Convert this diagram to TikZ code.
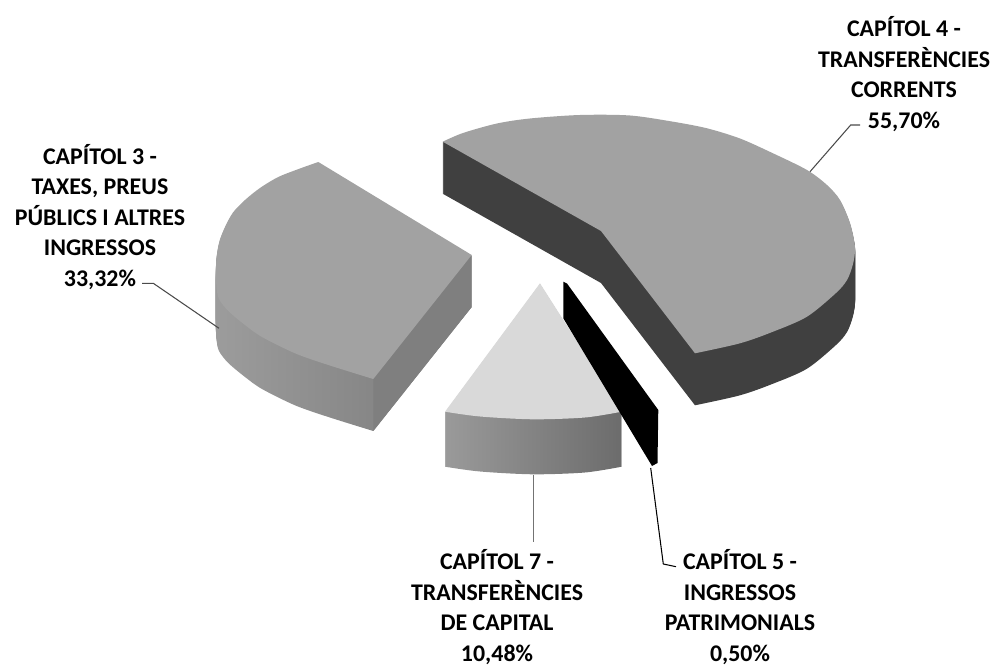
\documentclass[tikz,border=0pt]{standalone}
\usepackage{fontspec}
\setmainfont{Carlito}
\definecolor{ctopdark}{HTML}{A2A2A2}
\definecolor{cside4}{HTML}{404040}
\definecolor{cface3}{HTML}{7F7F7F}
\definecolor{cside3L}{HTML}{9C9C9C}
\definecolor{cside3R}{HTML}{797979}
\definecolor{ctop7}{HTML}{D9D9D9}
\definecolor{cside7L}{HTML}{9A9A9A}
\definecolor{cside7R}{HTML}{6C6C6C}
\definecolor{cleader}{HTML}{4A4A4A}
\begin{document}
\begin{tikzpicture}[x=0.02cm,y=-0.02cm]
\useasboundingbox (0,0) rectangle (998,665);
\tikzset{
  lbl/.style={font=\fontsize{13.6pt}{17.35pt}\selectfont\bfseries, align=center, inner sep=0pt, text=black},
  leader/.style={draw=cleader, line width=0.6pt},
}
% top faces
\def\topA{plot[smooth] coordinates {(442.7,141.7) (463,133) (497,123.5) (530,118.5) (580,115) (630,115.5) (673,121.7) (707,128.3) (740,138.5) (773,153.3) (807,170) (827,185) (840,200) (850,223) (855,247) (853,264) (847,280) (836,293) (807,316.7) (773,331.7) (740,343.3) (695,353.3)} -- (601,231) -- cycle}
\def\topB{plot[smooth] coordinates {(318.3,162) (300,168.5) (278.3,177) (260,188) (245,200) (233,212.5) (225,227) (219.5,241) (216.7,256) (215.8,272) (216.5,287) (219,299) (228.3,311) (245,325) (262,337) (295,353.3) (328.3,365) (373.3,379)} -- (471.7,255) -- cycle}
\def\topC{(540,283.3) -- (621.7,411.7) -- plot[smooth] coordinates {(621.7,411.7) (585,417.5) (533,419.3) (480,416.5) (445,411.7)} -- cycle}

% slice 4 (55,70%)
\foreach \d in {1,...,52} {\fill[cside4, shift={(0,\d)}] \topA;}
\fill[ctopdark] \topA;

% slice 3 (33,32%)
\foreach \d in {1,...,52} {\shade[left color=cside3L, right color=cside3R, shift={(0,\d)}] \topB;}
\fill[cface3] (471.7,255) -- (373.3,379) -- (373.3,431) -- (471.7,307) -- cycle;
\fill[ctopdark] \topB;

% slice 7 (10,48%)
\foreach \d in {1,...,55} {\shade[left color=cside7L, right color=cside7R, shift={(0,\d)}] \topC;}
\fill[ctop7] \topC;

% slice 5 (0,50%)
\fill[black] (563.3,281.7) -- (567,283.5) -- (658.3,410) -- (657.5,463) -- (652,466) -- (563.3,318.3) -- cycle;

% labels
\node[lbl] (l4) at (904,74) {CAPÍTOL 4 -\\TRANSFERÈNCIES\\CORRENTS\\55,70\%};
\node[lbl] (l3) at (100,217) {CAPÍTOL 3 -\\TAXES, PREUS\\PÚBLICS I ALTRES\\INGRESSOS\\33,32\%};
\node[lbl] (l7) at (497,607) {CAPÍTOL 7 -\\TRANSFERÈNCIES\\DE CAPITAL\\10,48\%};
\node[lbl] (l5) at (740,607) {CAPÍTOL 5 -\\INGRESSOS\\PATRIMONIALS\\0,50\%};

% leader lines
\coordinate (s4) at (810,171.7);
\coordinate (k4) at (850.7,125);
\coordinate (e4) at (860,125);
\draw[leader] (s4) -- (k4) -- (e4);
\coordinate (s3) at (219,328.3);
\coordinate (k3) at (153.3,283.3);
\coordinate (e3) at (142,283.3);
\draw[leader] (s3) -- (k3) -- (e3);
\coordinate (s7) at (533.3,475);
\coordinate (e7) at (533.3,541.7);
\draw[leader, draw=black!55] (s7) -- (e7);
\coordinate (s5) at (650.7,468);
\coordinate (k5) at (663.3,564);
\coordinate (e5) at (676,566.7);
\draw[leader, draw=black] (s5) -- (k5) -- (e5);
\end{tikzpicture}
\end{document}
